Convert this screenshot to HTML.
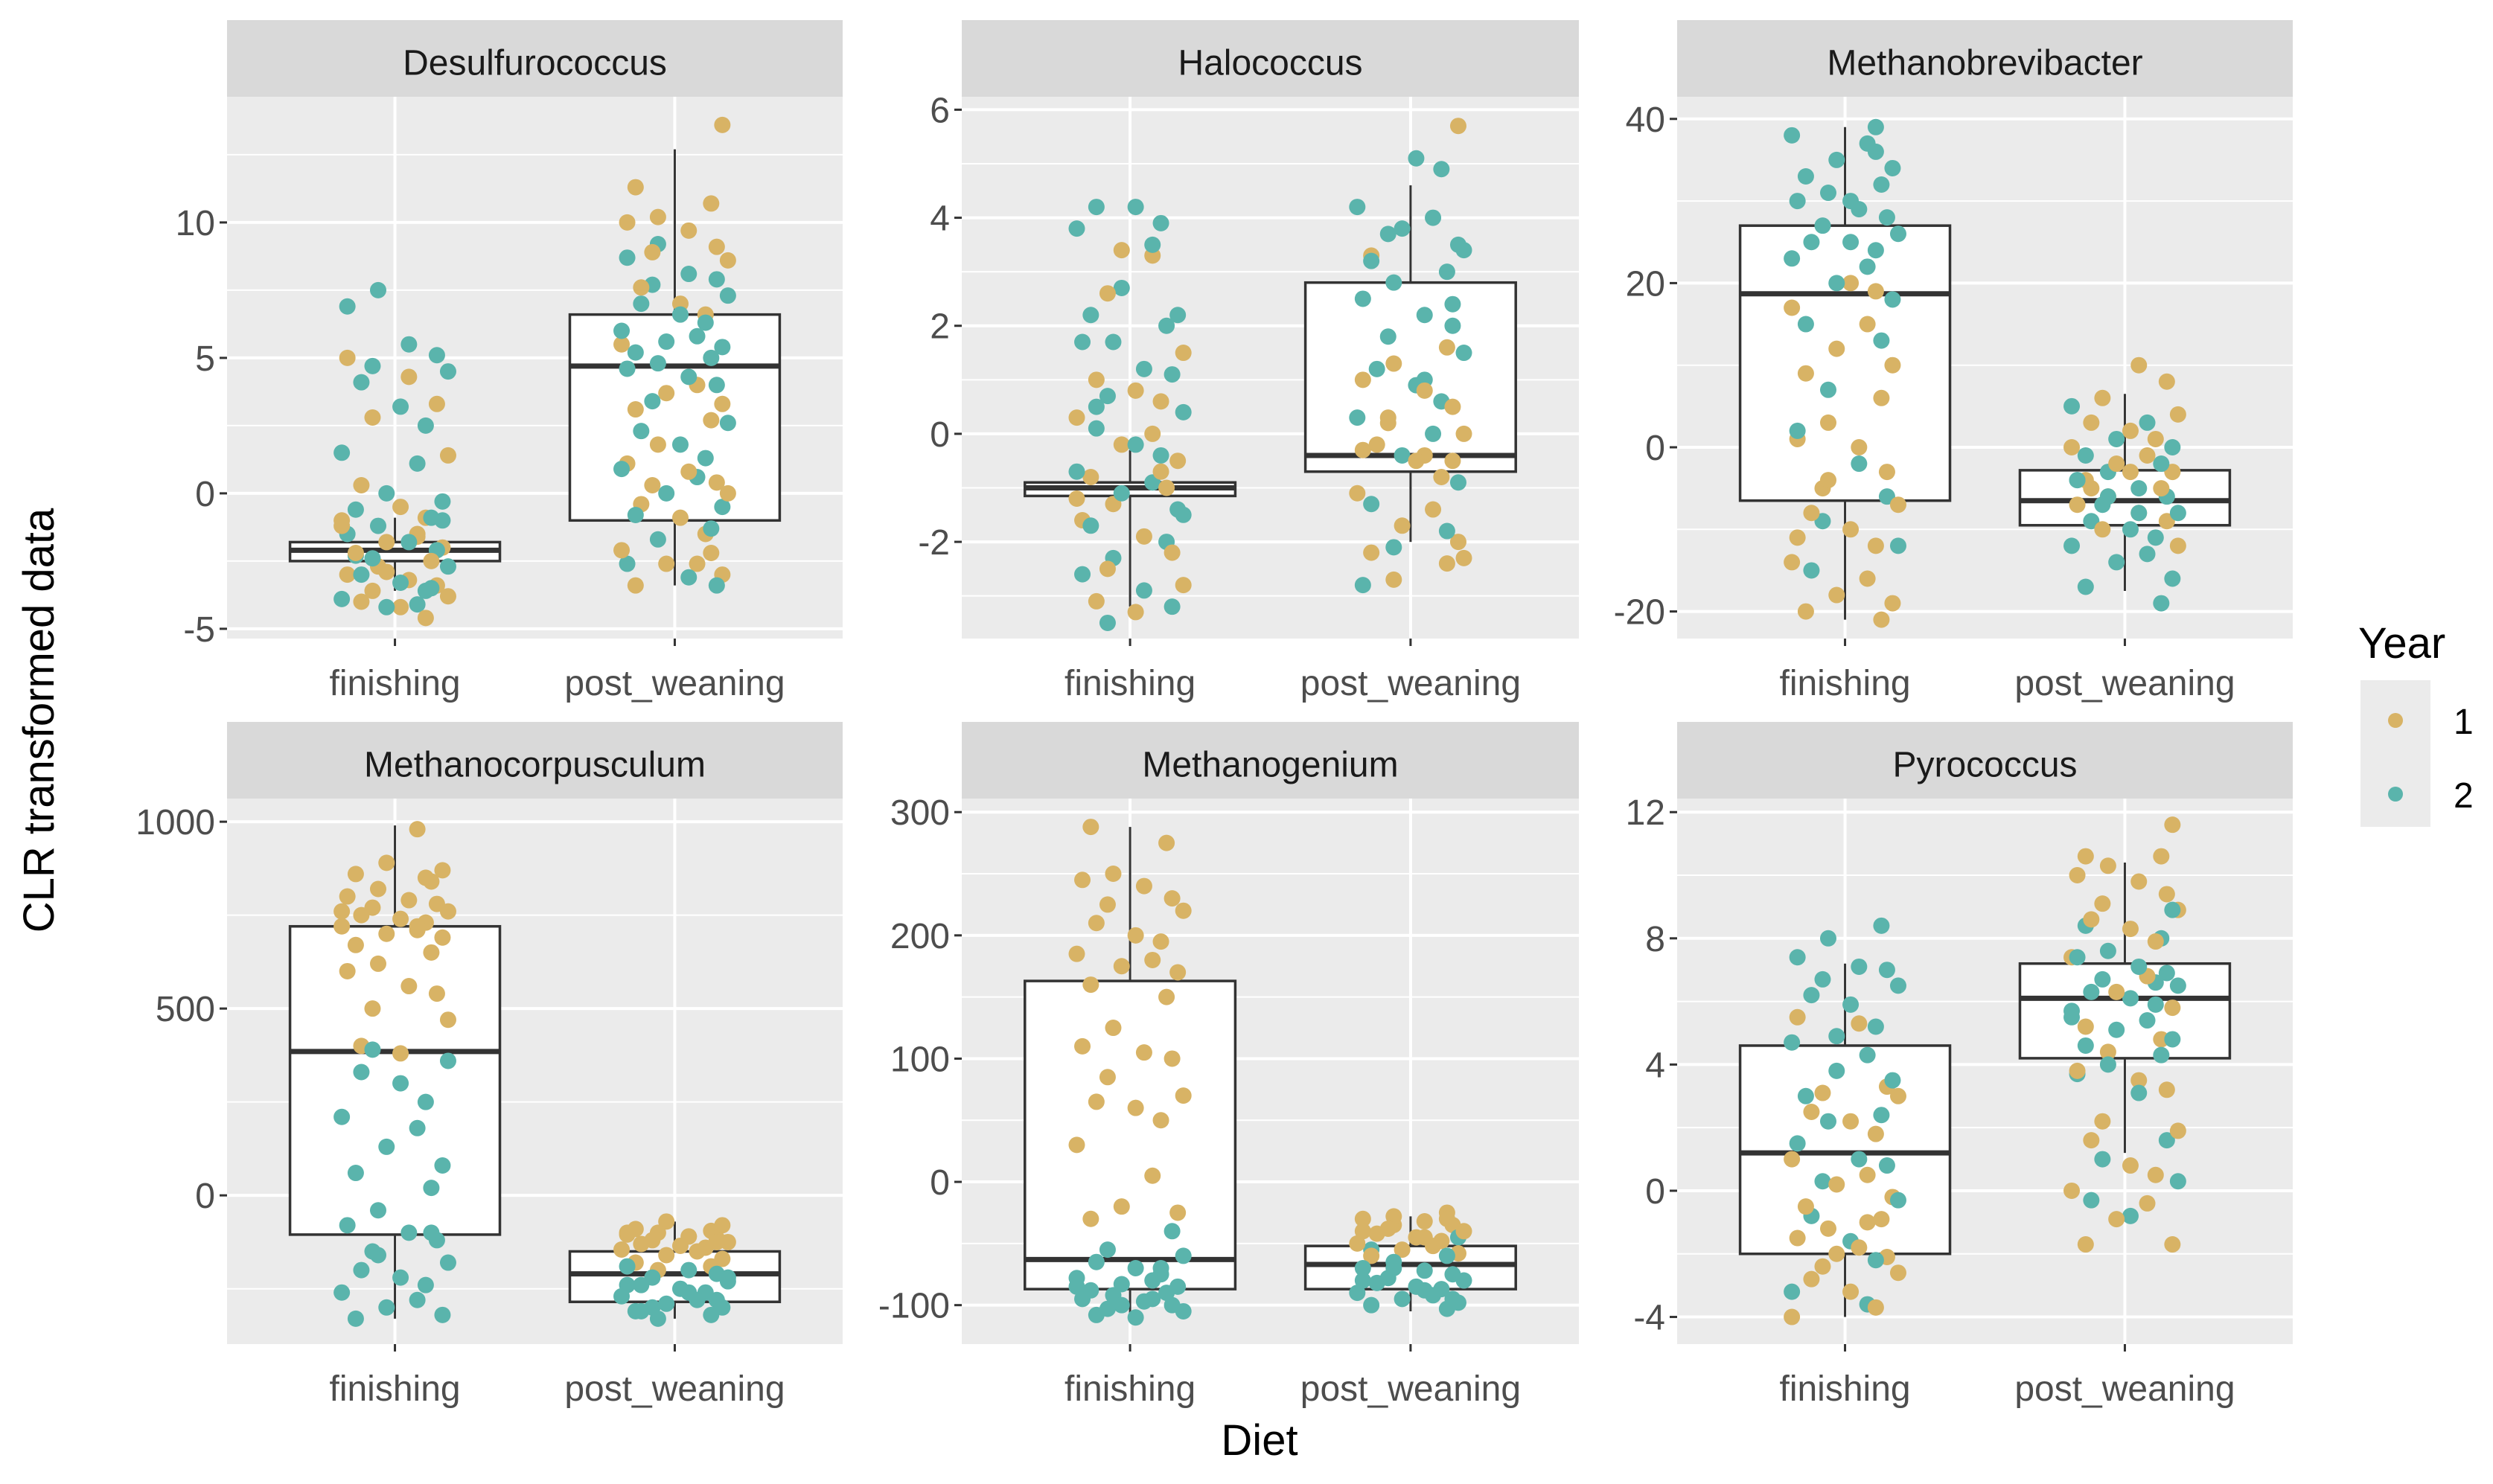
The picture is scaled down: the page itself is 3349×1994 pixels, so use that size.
<!DOCTYPE html>
<html><head><meta charset="utf-8">
<style>
html,body{margin:0;padding:0;background:#fff;}
svg{display:block;font-family:"Liberation Sans",Arial,sans-serif;}
</style></head>
<body>
<svg id="chart" width="3349" height="1994" viewBox="0 0 3349 1994" xmlns="http://www.w3.org/2000/svg">
<g id="panels"></g>
<text x="0" y="0" transform="translate(72,968) rotate(-90)" text-anchor="middle" font-size="58" fill="#000">CLR transformed data</text>
<text x="1692" y="1955" text-anchor="middle" font-size="58" fill="#000">Diet</text>
<g>
<text x="3168" y="884" font-size="58" fill="#000">Year</text>
<rect x="3171" y="914" width="94" height="197" fill="#EBEBEB"/>
<circle cx="3218" cy="968" r="10" fill="#D8B365"/>
<circle cx="3218" cy="1067" r="10" fill="#5AB4AC"/>
<text x="3296" y="986" font-size="48" fill="#000">1</text>
<text x="3296" y="1085" font-size="48" fill="#000">2</text>
</g>
</svg>
<script>
const categories = ["finishing","post_weaning"];
const panelNames = ["Desulfurococcus","Halococcus","Methanobrevibacter","Methanocorpusculum","Methanogenium","Pyrococcus"];
const yDomains = [[-5.36,14.64],[-3.79,6.24],[-23.3,42.7],[-398,1062],[-131.6,311],[-4.86,12.43]];
const yBreaks = [[-5,0,5,10],[-2,0,2,4,6],[-20,0,20,40],[0,500,1000],[-100,0,100,200,300],[-4,0,4,8,12]];
const yMinor = [[-2.5,2.5,7.5,12.5],[-3,-1,1,3,5],[-10,10,30],[-250,250,750],[-50,50,150,250],[-2,2,6,10]];
// box stats: [lowWhisker, q1, median, q3, highWhisker] per panel per category
const boxFinishing = [[-3.6,-2.5,-2.1,-1.8,-0.9],[-3.2,-1.15,-1.0,-0.9,-0.3],[-21,-6.5,18.7,27,39],[-330,-105,385,720,990],[-110,-87,-63,163,288],[-4,-2.0,1.2,4.6,7.2]];
const boxPostWeaning = [[-3.4,-1.0,4.7,6.6,12.7],[-2.0,-0.7,-0.4,2.8,4.6],[-17.5,-9.5,-6.5,-2.8,6.5],[-330,-285,-210,-150,-70],[-105,-87,-67,-52,-28],[1.2,4.2,6.1,7.2,10.4]];
const year1Finishing = [
 [5.0,4.3,3.3,2.8,1.4,0.3,-0.5,-0.9,-1.2,-1.5,-1.8,-2.0,-2.2,-2.5,-2.7,-3.0,-3.2,-3.4,-3.6,-3.8,-4.0,-4.2,-4.6,-1.0,-1.6,-2.9],
 [2.6,1.5,1.0,0.8,0.6,0.3,0.0,-0.2,-0.5,-0.8,-1.0,-1.3,-1.6,-1.9,-2.2,-2.5,-2.8,-3.1,-3.3,-0.7,-1.2,3.3,3.4],
 [20,19,17,15,12,10,9,6,3,1,0,-3,-5,-7,-8,-10,-12,-14,-16,-18,-19,-20,-21,-4,-11],
 [980,890,870,860,840,820,800,790,780,770,760,750,740,730,720,710,700,690,670,650,620,600,560,540,500,470,400,380,850,760,720],
 [288,275,250,245,240,230,225,220,210,200,195,185,180,175,170,160,150,125,110,105,100,85,70,65,60,50,30,5,-20,-25,-30],
 [5.5,5.3,3.3,3.1,3.0,2.5,2.2,1.8,1.0,0.5,0.2,-0.2,-0.5,-0.9,-1.2,-1.5,-1.8,-2.1,-2.4,-2.6,-2.8,-3.2,-3.7,-4.0,-1.0,-2.0]];
const year2Finishing = [
 [7.5,6.9,5.5,5.1,4.7,4.5,4.1,3.2,2.5,1.5,1.1,0.0,-0.3,-0.6,-0.9,-1.2,-1.5,-1.8,-2.1,-2.4,-2.7,-3.0,-3.3,-3.6,-3.9,-4.1,-4.2,-1.0,-2.3,-3.5],
 [4.2,4.2,3.9,3.8,3.5,2.7,2.2,2.2,2.0,1.7,1.7,1.2,1.1,0.7,0.4,0.1,-0.2,-0.4,-0.7,-0.9,-1.1,-1.4,-1.7,-2.0,-2.3,-2.6,-2.9,-3.2,-3.5,-1.5,0.5],
 [39,38,37,35,34,33,32,31,30,29,28,27,26,25,25,24,23,22,20,18,15,13,7,2,-2,-6,-9,-12,-15,30,36],
 [390,360,330,300,250,210,180,130,80,60,20,-40,-80,-100,-120,-150,-180,-200,-220,-240,-260,-280,-300,-320,-330,-100,-160],
 [-40,-55,-60,-65,-70,-75,-78,-80,-83,-85,-88,-90,-92,-95,-97,-100,-103,-105,-108,-110,-70,-85,-95,-100],
 [8.4,8.0,7.4,7.1,7.0,6.7,6.5,6.2,5.9,5.2,4.7,4.3,3.8,3.5,3.0,2.4,2.2,1.5,1.0,0.8,0.3,-0.3,-0.8,-1.6,-2.2,-3.2,-3.6,4.9]];
const year1PostWeaning = [
 [13.6,11.3,10.7,10.2,10.0,9.7,9.1,8.9,8.6,7.6,7.0,6.6,5.5,4.0,3.7,3.3,3.1,2.7,1.8,1.1,0.8,0.4,0.3,0.0,-0.4,-0.9,-1.5,-2.1,-2.6,-2.6,-3.0,-3.4,-2.2],
 [5.7,3.3,1.6,1.3,1.0,0.8,0.5,0.2,0.0,-0.2,-0.5,-0.8,-1.1,-1.4,-1.7,-2.0,-2.2,-2.4,-2.7,-0.3,-0.4,-0.5,0.3,-2.3],
 [10,8,6,4,3,2,1,0,-1,-2,-3,-4,-5,-6,-7,-8,-9,-10,-12,-5,-3],
 [-70,-80,-90,-95,-100,-105,-110,-115,-120,-125,-130,-135,-140,-145,-150,-160,-170,-180,-190,-200,-100,-110,-125],
 [-25,-28,-30,-32,-35,-38,-40,-42,-45,-48,-50,-52,-55,-58,-60,-30,-35,-40,-45],
 [11.6,10.6,10.6,10.3,10.0,9.8,9.4,9.1,8.9,8.6,8.3,7.9,7.4,6.8,6.3,5.8,5.2,4.8,4.4,3.8,3.5,3.2,2.2,1.9,1.6,0.8,0.5,0.0,-0.4,-0.9,-1.7,-1.7]];
const year2PostWeaning = [
 [9.2,8.7,8.1,7.9,7.7,7.3,7.0,6.6,6.3,6.0,5.8,5.6,5.4,5.2,5.0,4.8,4.6,4.3,4.0,3.4,2.6,2.3,1.8,1.3,0.9,0.6,0.0,-0.5,-0.8,-1.3,-1.7,-2.6,-3.1,-3.4],
 [5.1,4.9,4.2,4.0,3.8,3.5,3.2,3.0,2.8,2.5,2.2,2.0,1.8,1.5,1.2,0.9,0.6,0.3,0.0,-0.4,-0.9,-1.3,-1.8,-2.1,-2.8,1.0,2.4,3.7,3.4],
 [5,3,1,0,-1,-2,-3,-4,-5,-6,-7,-8,-9,-10,-11,-12,-13,-14,-16,-17,-19,-6,-4,-8],
 [-190,-200,-210,-220,-230,-240,-250,-260,-270,-280,-290,-300,-310,-320,-330,-240,-260,-280,-300,-220,-310],
 [-45,-55,-60,-65,-70,-72,-75,-78,-80,-82,-85,-87,-90,-92,-95,-98,-100,-103,-70,-80,-88,-95],
 [8.9,8.4,8.0,7.6,7.4,7.1,6.9,6.7,6.5,6.3,6.1,5.9,5.7,5.4,5.1,4.8,4.6,4.3,4.0,3.7,3.1,1.6,1.0,0.3,-0.3,-0.8,6.6,5.5]];
const jitter = [-0.17,0.05,0.15,-0.08,0.19,-0.12,0.02,0.11,-0.19,0.08,-0.03,0.17,-0.14,0.13,-0.06];

const NS="http://www.w3.org/2000/svg";
const colX=[[305,1132],[1292,2121],[2253,3080]];
const rowY=[[27,130,858],[970,1073,1806]];
const root=document.getElementById('panels');
function mk(tag,attrs,parent){const e=document.createElementNS(NS,tag);for(const k in attrs)e.setAttribute(k,attrs[k]);parent.appendChild(e);return e;}
function fmt(v){return String(v);}

panelNames.forEach((name,p)=>{
  const c=p%3,r=Math.floor(p/3);
  const [x0,x1]=colX[c];const [sTop,y0,y1]=rowY[r];
  const [d0,d1]=yDomains[p];
  const ys=v=>y1-(v-d0)/(d1-d0)*(y1-y0);
  const xs=v=>x0+(v-0.4)/2.2*(x1-x0);
  const g=mk('g',{},root);
  
  
  const strip=mk('rect',{x:x0,y:sTop,width:x1-x0,height:y0-sTop,fill:'#D9D9D9'},g);
  
  
  const st=mk('text',{x:(x0+x1)/2,y:(sTop+y0)/2+22,'text-anchor':'middle','font-size':48,fill:'#1A1A1A'},g);
  st.textContent=name;
  
  
  const bg=mk('rect',{x:x0,y:y0,width:x1-x0,height:y1-y0,fill:'#EBEBEB'},g);
  
  
  yMinor[p].forEach(v=>{const y=ys(v);if(y>y0&&y<y1){const l=mk('line',{x1:x0,x2:x1,y1:y,y2:y,stroke:'#fff','stroke-width':2},g);
    
    }});
  yBreaks[p].forEach(v=>{const y=ys(v);
    const l=mk('line',{x1:x0,x2:x1,y1:y,y2:y,stroke:'#fff','stroke-width':4},g);
    
    
    const t=mk('line',{x1:x0-10,x2:x0,y1:y,y2:y,stroke:'#333','stroke-width':3},g);
    
    
    const tl=mk('text',{x:x0-16,y:y+17,'text-anchor':'end','font-size':48,fill:'#4D4D4D'},g);
    tl.textContent=fmt(v);
    
    });
  categories.forEach((cat,i)=>{const x=xs(i+1);
    const l=mk('line',{x1:x,x2:x,y1:y0,y2:y1,stroke:'#fff','stroke-width':4},g);
    
    
    const t=mk('line',{x1:x,x2:x,y1:y1,y2:y1+10,stroke:'#333','stroke-width':3},g);
    
    
    const tl=mk('text',{x:x,y:y1+76,'text-anchor':'middle','font-size':48,fill:'#4D4D4D'},g);
    tl.textContent=cat;
    
    });
  [boxFinishing[p],boxPostWeaning[p]].forEach((b,i)=>{
    const x=xs(i+1),hw=(xs(1.375)-xs(1));
    const w=mk('line',{x1:x,x2:x,y1:ys(b[0]),y2:ys(b[4]),stroke:'#333','stroke-width':3},g);
    
    
    const bx=mk('rect',{x:x-hw,y:ys(b[3]),width:2*hw,height:ys(b[1])-ys(b[3]),fill:'#fff',stroke:'#333','stroke-width':3.5},g);
    
    
    const md=mk('line',{x1:x-hw,x2:x+hw,y1:ys(b[2]),y2:ys(b[2]),stroke:'#333','stroke-width':7},g);
    
    
  });
  const groups=[[year1Finishing[p],1,'#D8B365'],[year1PostWeaning[p],2,'#D8B365'],[year2Finishing[p],1,'#5AB4AC'],[year2PostWeaning[p],2,'#5AB4AC']];
  let k=p*3;
  const pts=[];
  groups.forEach(([vals,cx,col])=>vals.forEach(v=>{pts.push([cx+jitter[k%jitter.length],v,col]);k++;}));
  pts.sort((a,b)=>((a[1]*7.3)%1)-((b[1]*7.3)%1));
  pts.forEach(([cx,v,col])=>{
    const pt=mk('circle',{cx:xs(cx),cy:ys(v),r:11,fill:col},g);
    
    
  });
});
</script>
</body></html>
